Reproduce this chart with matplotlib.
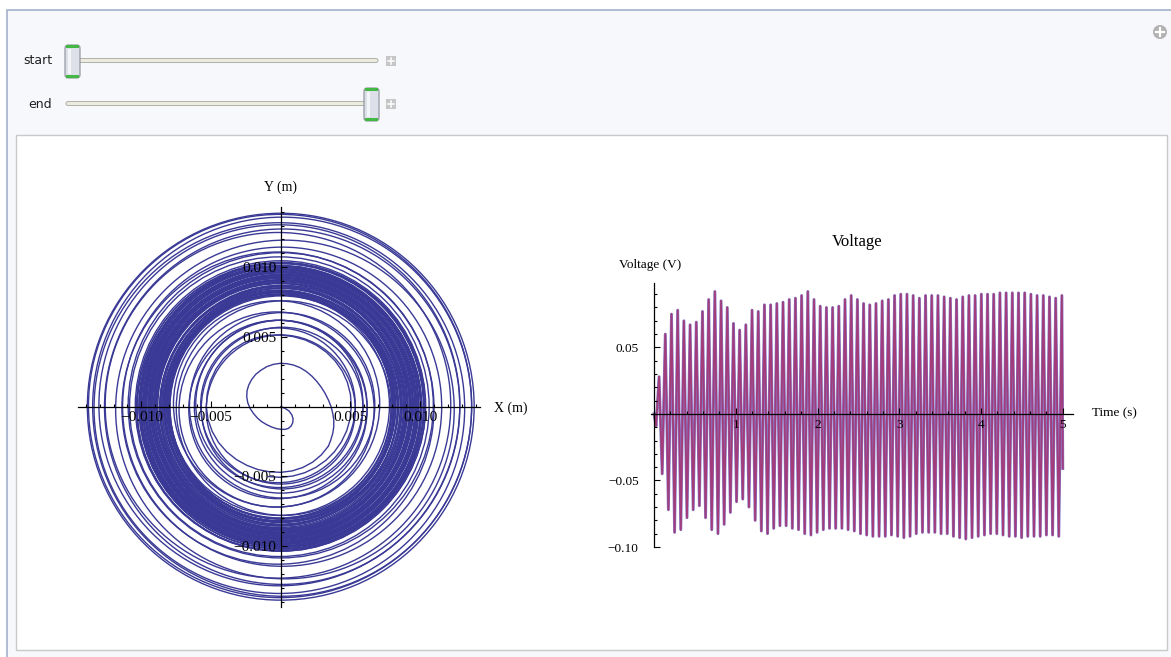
import numpy as np
import matplotlib
matplotlib.use('Agg')
import matplotlib.pyplot as plt
from matplotlib.patches import Circle, Rectangle, FancyBboxPatch
from matplotlib.ticker import MultipleLocator

# ---- spiral data (mm, scaled to metres below) ----
# first turn, traced point by point
curl_x = [0.0, 0.311, 0.598, 0.790, 0.885, 0.861, 0.742, 0.550, 0.311, 0.024,
          -0.287, -0.646, -1.005, -1.364, -1.675, -1.962, -2.201, -2.369, -2.441,
          -2.417, -2.297, -2.082, -1.795, -1.436, -1.005, -0.526, -0.048, 0.431,
          0.909, 1.388, 1.819, 2.225, 2.584, 2.895, 3.183, 3.422, 3.613, 3.733,
          3.805, 3.805, 3.733, 3.589, 3.422]
curl_y = [0.0, -0.120, -0.311, -0.574, -0.861, -1.149, -1.388, -1.555, -1.627,
          -1.627, -1.579, -1.460, -1.292, -1.077, -0.814, -0.479, -0.120, 0.287,
          0.718, 1.149, 1.555, 1.962, 2.321, 2.608, 2.871, 3.039, 3.111, 3.087,
          2.991, 2.800, 2.537, 2.201, 1.819, 1.412, 0.957, 0.479, 0.0, -0.479,
          -0.957, -1.436, -1.914, -2.393, -2.824]
# second turn: radius every 10 degrees, going clockwise from -40 deg
turn_deg = np.arange(-40, -461, -10)
turn_r = [4.44, 4.52, 4.59, 4.64, 4.68, 4.71, 4.74, 4.80, 4.86, 4.95, 5.05, 5.15,
          5.23, 5.30, 5.34, 5.36, 5.38, 5.38, 5.37, 5.35, 5.30, 5.25, 5.20, 5.14,
          5.11, 5.10, 5.10, 5.10, 5.10, 5.10, 5.09, 5.08, 5.06, 5.05, 5.04, 5.03,
          5.03, 5.03, 5.03, 5.04, 5.05, 5.07, 5.09]
# later turns, drawn as rings: radius and centre
ring_r = [5.35, 5.55, 5.80, 6.00, 6.20, 6.40, 6.65, 7.00, 7.40, 7.70, 7.90,
          10.75, 10.95, 11.20, 11.45, 12.15, 12.40, 12.75, 12.95, 13.30, 13.60,
          13.75, 13.88]
ring_cx = [0.0, -0.2, 0.1, -0.1, 0.0, -0.2, 0.1, -0.3, -0.3, 0.2, -0.1,
           -0.1, 0.0, -0.2, 0.1, 0.3, -0.2, 0.1, -0.1, -0.1, 0.1, -0.05, 0.0]
ring_cy = [-0.2, 0.1, -0.1, 0.2, 0.0, -0.2, 0.1, -0.2, 0.2, -0.1, 0.1,
           0.0, 0.1, -0.1, 0.0, -0.2, 0.1, 0.0, 0.1, -0.1, 0.0, 0.05, 0.0]
# the dense band of turns between about 8 and 10.4 mm
band_r = [8.00, 8.03, 8.06, 8.09, 8.12, 8.15, 8.18, 8.22, 8.25, 8.29, 8.32, 8.36,
          8.40, 8.44, 8.48, 8.52, 8.56, 8.68, 8.72, 8.76, 8.80, 8.84, 8.88, 8.91,
          8.94, 8.97, 9.00, 9.03, 9.06, 9.09, 9.12, 9.15, 9.18, 9.21, 9.24, 9.27,
          9.30, 9.33, 9.36, 9.39, 9.42, 9.45, 9.48, 9.51, 9.54, 9.57, 9.60, 9.63,
          9.66, 9.69, 9.72, 9.75, 9.78, 9.81, 9.84, 9.87, 9.90, 9.93, 9.96, 9.99,
          10.02, 10.05, 10.08, 10.12, 10.16, 10.20, 10.25, 10.30, 10.36, 10.42]
band_cx = [0.05, -0.05, 0.10, -0.10, 0.0, 0.08, -0.08, 0.04, -0.04, 0.12,
           -0.12, 0.0, 0.06, -0.06, 0.10, -0.10, 0.02, -0.02, 0.08, -0.08,
           0.12, -0.12, 0.04, -0.04, 0.0, 0.10, -0.10, 0.06, -0.06, 0.02,
           -0.02, 0.08, -0.08, 0.12, -0.12, 0.04, -0.04, 0.0, 0.10, -0.10,
           0.06, -0.06, 0.02, -0.02, 0.08, -0.08, 0.12, -0.12, 0.04, -0.04,
           0.0, 0.10, -0.10, 0.06, -0.06, 0.02, -0.02, 0.08, -0.08, 0.12,
           -0.12, 0.04, -0.04, 0.0, 0.10, -0.10, 0.06, -0.06, 0.02, -0.02]
band_cy = [-0.05, 0.05, 0.0, 0.08, -0.08, 0.10, -0.10, 0.04, -0.04, 0.0,
           0.06, -0.06, 0.12, -0.12, 0.02, -0.02, 0.08, -0.08, 0.0, 0.10,
           -0.10, 0.04, -0.04, 0.06, -0.06, 0.12, -0.12, 0.02, -0.02, 0.0,
           0.08, -0.08, 0.10, -0.10, 0.04, -0.04, 0.06, -0.06, 0.12, -0.12,
           0.02, -0.02, 0.0, 0.08, -0.08, 0.10, -0.10, 0.04, -0.04, 0.06,
           -0.06, 0.12, -0.12, 0.02, -0.02, 0.0, 0.08, -0.08, 0.10, -0.10,
           0.04, -0.04, 0.06, -0.06, 0.12, -0.12, 0.02, -0.02, 0.0, 0.05]

# ---- voltage data, one max and one min per cycle ----
t_first_peak = 0.062
cycle = 0.0758
v_start = [0.0, -0.009]
t_start = [0.0, 0.025]
v_peaks = [0.028, 0.060, 0.075, 0.078, 0.070, 0.067, 0.069, 0.077, 0.086, 0.092,
           0.085, 0.080, 0.068, 0.063, 0.067, 0.078, 0.077, 0.082, 0.082, 0.083,
           0.084, 0.086, 0.087, 0.089, 0.092, 0.086, 0.081, 0.080, 0.080, 0.081,
           0.086, 0.089, 0.086, 0.083, 0.082, 0.083, 0.085, 0.086, 0.089, 0.090,
           0.090, 0.089, 0.087, 0.089, 0.089, 0.089, 0.088, 0.087, 0.086, 0.088,
           0.089, 0.089, 0.090, 0.090, 0.090, 0.091, 0.091, 0.091, 0.091, 0.091,
           0.090, 0.089, 0.089, 0.088, 0.087, 0.089]
v_troughs = [-0.045, -0.072, -0.089, -0.087, -0.078, -0.072, -0.069, -0.078, -0.087, -0.090,
             -0.083, -0.074, -0.066, -0.064, -0.070, -0.080, -0.088, -0.090, -0.086, -0.084,
             -0.084, -0.086, -0.087, -0.090, -0.091, -0.089, -0.087, -0.086, -0.086, -0.086,
             -0.087, -0.088, -0.090, -0.091, -0.092, -0.092, -0.092, -0.091, -0.092, -0.093,
             -0.092, -0.090, -0.089, -0.089, -0.089, -0.090, -0.090, -0.092, -0.093, -0.094,
             -0.093, -0.092, -0.091, -0.090, -0.090, -0.091, -0.092, -0.092, -0.093, -0.092,
             -0.092, -0.092, -0.091, -0.091, -0.092]
t_end, v_end = 5.0, -0.041

W, H = 1171, 657
serif = ['Liberation Serif', 'DejaVu Serif']
blue = '#3a3a96'
mm = 0.001

fig = plt.figure(figsize=(W / 100, H / 100), dpi=100)
fig.patch.set_facecolor('white')

# ---- the panel around the plots (pixel coordinates) ----
ui = fig.add_axes([0, 0, 1, 1])
ui.set_xlim(0, W)
ui.set_ylim(H, 0)
ui.axis('off')
ui.add_patch(Rectangle((6.5, 9.5), W, H, fc='#f7f8fc', ec='#a3b1cb', lw=1.2))
ui.add_patch(Rectangle((16, 135), 1151, 515, fc='white', ec='#c8c8c8', lw=1))

for label, lx, ty, thumb_x in [('start', 38, 61, 65), ('end', 40, 104, 364)]:
    ui.text(lx, ty, label, ha='center', va='center', fontsize=9,
            family='DejaVu Sans', color='#202020')
    ui.add_patch(FancyBboxPatch((66, ty - 2.5), 312, 4,
                                boxstyle='round,pad=0,rounding_size=2',
                                fc='#ecebdf', ec='#b0b0a8', lw=0.7))
    ui.add_patch(FancyBboxPatch((thumb_x, ty - 16), 15, 33,
                                boxstyle='round,pad=0,rounding_size=3',
                                fc='#dde0e8', ec='#8b9099', lw=0.8))
    ui.add_patch(Rectangle((thumb_x + 1, ty - 16), 13, 3, fc='#44b844', ec='none'))
    ui.add_patch(Rectangle((thumb_x + 1, ty + 14), 13, 3, fc='#44b844', ec='none'))
    ui.add_patch(Rectangle((thumb_x + 3, ty - 12), 3, 25, fc='#f4f5f8', ec='none'))
    px = 391
    ui.add_patch(Rectangle((px - 5, ty - 5), 10, 10, fc='#c6c6c6', ec='none'))
    ui.plot([px - 3, px + 3], [ty, ty], color='white', lw=1.1)
    ui.plot([px, px], [ty - 3, ty + 3], color='white', lw=1.1)

ui.add_patch(Circle((1160, 32), 7, fc='#b2b2b2', ec='none'))
ui.plot([1156, 1164], [32, 32], color='white', lw=1.6)
ui.plot([1160, 1160], [28, 36], color='white', lw=1.6)

# ---- text labels of the two plots ----
ui.text(280, 187, 'Y (m)', ha='center', va='center', fontsize=10, family=serif)
ui.text(511, 408, 'X (m)', ha='center', va='center', fontsize=10, family=serif)
ui.text(857, 242, 'Voltage', ha='center', va='center', fontsize=12, family=serif)
ui.text(650, 265, 'Voltage (V)', ha='center', va='center', fontsize=9.5, family=serif)
ui.text(1114, 413, 'Time (s)', ha='center', va='center', fontsize=9.5, family=serif)


def axes_through_origin(ax):
    ax.patch.set_alpha(0)
    for side in ['top', 'right']:
        ax.spines[side].set_visible(False)
    for side in ['left', 'bottom']:
        ax.spines[side].set_position(('data', 0))
        ax.spines[side].set_linewidth(0.9)
        ax.spines[side].set_zorder(5)
    ax.tick_params(which='both', direction='in', width=0.8, colors='black')
    ax.tick_params(which='major', length=4.5)
    ax.tick_params(which='minor', length=2.5)


# ---- left: X-Y trajectory ----
ax1 = fig.add_axes([78.3 / W, 1 - 606.7 / H, 401.7 / W, 400 / H])
ax1.set_xlim(-0.01453, 0.0143)
ax1.set_ylim(-0.01435, 0.01435)
axes_through_origin(ax1)

ax1.plot(np.array(curl_x) * mm, np.array(curl_y) * mm, color=blue, lw=1.0,
         zorder=1)
turn_a = np.radians(turn_deg)
ax1.plot(np.array(turn_r) * mm * np.cos(turn_a), np.array(turn_r) * mm * np.sin(turn_a),
         color=blue, lw=1.0, zorder=1)
for r, cx, cy in zip(ring_r + band_r, ring_cx + band_cx, ring_cy + band_cy):
    ax1.add_patch(Circle((cx * mm, cy * mm), r * mm, fill=False, ec=blue, lw=1.0,
                         zorder=1))

ticks1 = [-0.010, -0.005, 0.005, 0.010]
labels1 = ['\u22120.010', '\u22120.005', '0.005', '0.010']
ax1.set_xticks(ticks1, labels1)
ax1.set_yticks(ticks1, labels1)
ax1.xaxis.set_minor_locator(MultipleLocator(0.001))
ax1.yaxis.set_minor_locator(MultipleLocator(0.001))
ax1.tick_params(labelsize=11, pad=3)
for lab in ax1.get_xticklabels() + ax1.get_yticklabels():
    lab.set_family(serif)

# ---- right: voltage vs time ----
ax2 = fig.add_axes([651 / W, 1 - 547 / H, 422 / W, 264 / H])
ax2.set_xlim(-0.037, 5.125)
ax2.set_ylim(-0.0995, 0.0984)
axes_through_origin(ax2)

t_peaks = t_first_peak + cycle * np.arange(len(v_peaks))
t_troughs = t_peaks[:len(v_troughs)] + cycle / 2
t_line = list(t_start)
v_line = list(v_start)
for i in range(len(v_peaks)):
    t_line.append(t_peaks[i])
    v_line.append(v_peaks[i])
    if i < len(v_troughs):
        t_line.append(t_troughs[i])
        v_line.append(v_troughs[i])
t_line.append(t_end)
v_line.append(v_end)

ax2.plot(t_line, v_line, color='#7060c0', lw=2.1, alpha=0.85,
         solid_joinstyle='round', zorder=1)
ax2.plot(t_line, v_line, color='#a8326c', lw=1.3, alpha=0.85,
         solid_joinstyle='round', zorder=1)

ax2.set_xticks([1, 2, 3, 4, 5], ['1', '2', '3', '4', '5'])
ax2.set_yticks([-0.10, -0.05, 0.05], ['\u22120.10', '\u22120.05', '0.05'])
ax2.xaxis.set_minor_locator(MultipleLocator(0.2))
ax2.yaxis.set_minor_locator(MultipleLocator(0.01))
ax2.tick_params(axis='x', labelsize=9.5, pad=4)
ax2.tick_params(axis='y', labelsize=9.5, pad=11)
for lab in ax2.get_xticklabels() + ax2.get_yticklabels():
    lab.set_family(serif)
    lab.set_zorder(6)

fig.savefig('out.png', dpi=100, facecolor=fig.get_facecolor())
